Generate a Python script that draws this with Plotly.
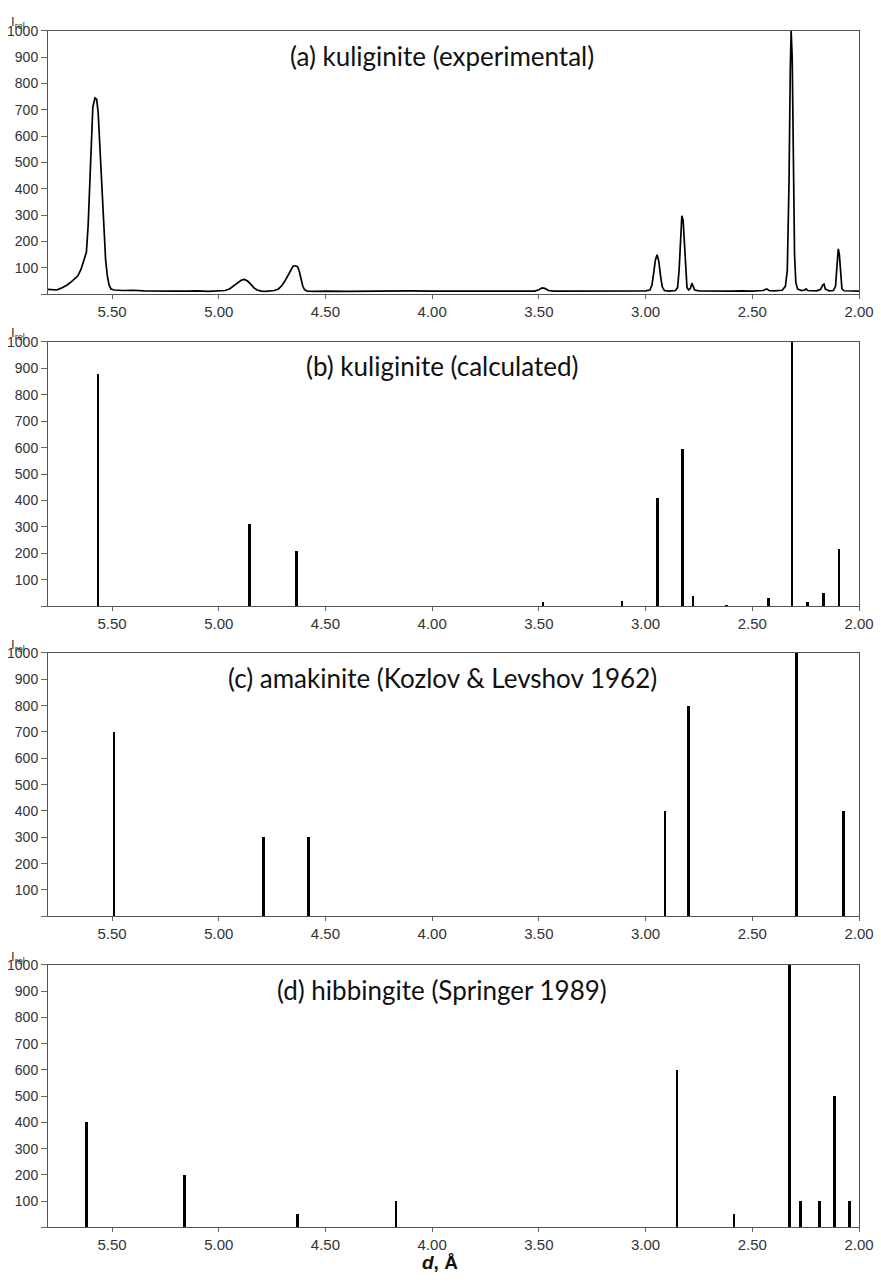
import plotly.graph_objects as go

# ---------------- data ----------------
# (a) kuliginite experimental pattern (d in Å, relative intensity)
exp_d = [5.800, 5.780, 5.760, 5.740, 5.725, 5.710, 5.690, 5.675, 5.660, 5.645, 5.635, 5.620,
         5.612, 5.605, 5.597, 5.590, 5.580, 5.572, 5.565, 5.557, 5.548, 5.540, 5.530, 5.522,
         5.514, 5.505, 5.490, 5.450, 5.400, 5.350, 5.300, 5.250, 5.200, 5.150, 5.100, 5.050,
         5.000, 4.970, 4.950, 4.930, 4.910, 4.895, 4.880, 4.865, 4.850, 4.835, 4.820, 4.800,
         4.780, 4.760, 4.740, 4.720, 4.705, 4.690, 4.675, 4.662, 4.652, 4.640, 4.630, 4.622,
         4.614, 4.606, 4.598, 4.585, 4.550, 4.500, 4.400, 4.300, 4.200, 4.100, 4.000, 3.900,
         3.800, 3.700, 3.600, 3.520, 3.500, 3.485, 3.472, 3.455, 3.430, 3.350, 3.250, 3.150,
         3.100, 3.050, 3.000, 2.980, 2.970, 2.962, 2.954, 2.946, 2.938, 2.930, 2.922, 2.912,
         2.890, 2.860, 2.850, 2.843, 2.836, 2.830, 2.824, 2.818, 2.812, 2.806, 2.798, 2.790,
         2.783, 2.777, 2.770, 2.750, 2.700, 2.650, 2.600, 2.550, 2.500, 2.450, 2.432, 2.422,
         2.400, 2.360, 2.345, 2.336, 2.328, 2.322, 2.318, 2.313, 2.308, 2.302, 2.296, 2.288,
         2.270, 2.255, 2.248, 2.240, 2.200, 2.180, 2.170, 2.164, 2.158, 2.140, 2.120, 2.110,
         2.103, 2.097, 2.092, 2.086, 2.080, 2.070, 2.040, 2.020, 2.000]
exp_I = [18, 16, 16, 22, 27, 35, 48, 58, 70, 95, 120, 160,
         260, 400, 620, 710, 745, 740, 690, 560, 390, 250, 130, 70,
         35, 20, 16, 14, 15, 13, 12, 13, 12, 12, 13, 11,
         12, 14, 20, 32, 45, 53, 56, 50, 38, 24, 16, 12,
         11, 12, 14, 20, 32, 50, 72, 95, 106, 108, 104, 85,
         55, 30, 17, 12, 11, 12, 11, 12, 12, 13, 12, 12,
         13, 12, 13, 12, 17, 24, 22, 14, 12, 12, 13, 12,
         14, 12, 13, 16, 35, 80, 130, 150, 125, 70, 28, 14,
         12, 14, 25, 90, 220, 298, 280, 180, 70, 25, 16, 22,
         42, 30, 16, 13, 12, 13, 12, 13, 12, 14, 20, 14,
         13, 15, 30, 90, 420, 850, 1000, 900, 500, 150, 45, 20,
         14, 16, 20, 14, 13, 18, 35, 38, 20, 13, 14, 30,
         110, 172, 150, 60, 20, 13, 12, 13, 12]

# (b) kuliginite calculated
calc_d = [5.566, 4.857, 4.636, 3.480, 3.110, 2.943, 2.826, 2.778, 2.620, 2.425, 2.313, 2.242, 2.167, 2.093]
calc_I = [880, 310, 210, 15, 20, 410, 595, 40, 5, 32, 1000, 18, 50, 218]

# (c) amakinite (Kozlov & Levshov 1962)
amak_d = [5.49, 4.79, 4.58, 2.91, 2.80, 2.293, 2.073]
amak_I = [700, 300, 300, 400, 800, 1000, 400]

# (d) hibbingite (Springer 1989)
hibb_d = [5.62, 5.16, 4.63, 4.17, 2.852, 2.585, 2.326, 2.275, 2.185, 2.115, 2.045]
hibb_I = [400, 200, 50, 100, 600, 50, 1000, 100, 100, 500, 100]

panel_titles = ["(a) kuliginite (experimental)",
                "(b) kuliginite (calculated)",
                "(c) amakinite (Kozlov & Levshov 1962)",
                "(d) hibbingite (Springer 1989)"]

x_ticks = [5.5, 5.0, 4.5, 4.0, 3.5, 3.0, 2.5, 2.0]
x_ticktext = ["5.50", "5.00", "4.50", "4.00", "3.50", "3.00", "2.50", "2.00"]
y_ticks = [0, 100, 200, 300, 400, 500, 600, 700, 800, 900, 1000]
y_ticktext = [""] + [str(v) for v in y_ticks[1:]]

# ---------------- layout geometry (pixels) ----------------
W, H = 881, 1283
L, R = 48, 22
panels_px = [(23, 288), (336, 602), (649, 914), (963, 1227)]
title_y_px = [48, 360, 674, 988]

fig = go.Figure()

fig.add_trace(go.Scatter(x=exp_d, y=exp_I, mode="lines",
                         line=dict(color="black", width=1.7),
                         xaxis="x", yaxis="y", showlegend=False))
bar_sets = [(calc_d, calc_I), (amak_d, amak_I), (hibb_d, hibb_I)]
for i, (dd, ii) in enumerate(bar_sets, start=2):
    fig.add_trace(go.Bar(x=dd, y=ii, width=0.012,
                         marker=dict(color="black", line=dict(width=0)),
                         xaxis=f"x{i}", yaxis=f"y{i}", showlegend=False))

layout = dict(
    width=W, height=H,
    margin=dict(l=L, r=R, t=0, b=0),
    paper_bgcolor="white", plot_bgcolor="white",
    bargap=0,
    annotations=[],
)

for k, (top, bot) in enumerate(panels_px):
    n = "" if k == 0 else str(k + 1)
    dom = [1 - bot / H, 1 - top / H]
    layout[f"xaxis{n}"] = dict(
        domain=[0, 1], range=[5.8, 2.0], anchor=f"y{n}",
        tickvals=x_ticks, ticktext=x_ticktext,
        ticks="outside", ticklen=4, tickcolor="#666",
        showline=True, linecolor="#555", linewidth=1, mirror=True,
        showgrid=False, zeroline=False,
        tickfont=dict(family="Liberation Sans, Arial", size=15, color="#333"),
    )
    layout[f"yaxis{n}"] = dict(
        domain=dom, range=[0, 1000], anchor=f"x{n}",
        tickvals=y_ticks, ticktext=y_ticktext,
        ticks="outside", ticklen=6, tickcolor="#666",
        showline=True, linecolor="#555", linewidth=1, mirror=True,
        showgrid=False, zeroline=False,
        tickfont=dict(family="Liberation Sans, Arial", size=14, color="#333"),
    )
    layout["annotations"].append(dict(
        text=panel_titles[k], xref="paper", yref="paper",
        x=(442 - L) / (W - L - R), y=1 - title_y_px[k] / H,
        xanchor="center", yanchor="middle", showarrow=False,
        font=dict(family="Lato, Carlito, Calibri", size=26, color="#111"),
    ))
    layout["annotations"].append(dict(
        text="I<sub>rel</sub>", xref="paper", yref="paper",
        x=(9 - L) / (W - L - R), y=1 - (top - 8) / H,
        xanchor="left", yanchor="middle", showarrow=False,
        font=dict(family="Liberation Sans, Arial", size=13, color="#333"),
    ))

layout["annotations"].append(dict(
    text="<b><i>d</i>, Å</b>", xref="paper", yref="paper",
    x=(440 - L) / (W - L - R), y=1 - 1262 / H,
    xanchor="center", yanchor="middle", showarrow=False,
    font=dict(family="Liberation Sans, Arial", size=19, color="#111"),
))

fig.update_layout(**layout)
fig.write_html("out.html",
               config={"displayModeBar": False},
               post_script="document.body.style.margin='0';document.body.style.padding='0';")
